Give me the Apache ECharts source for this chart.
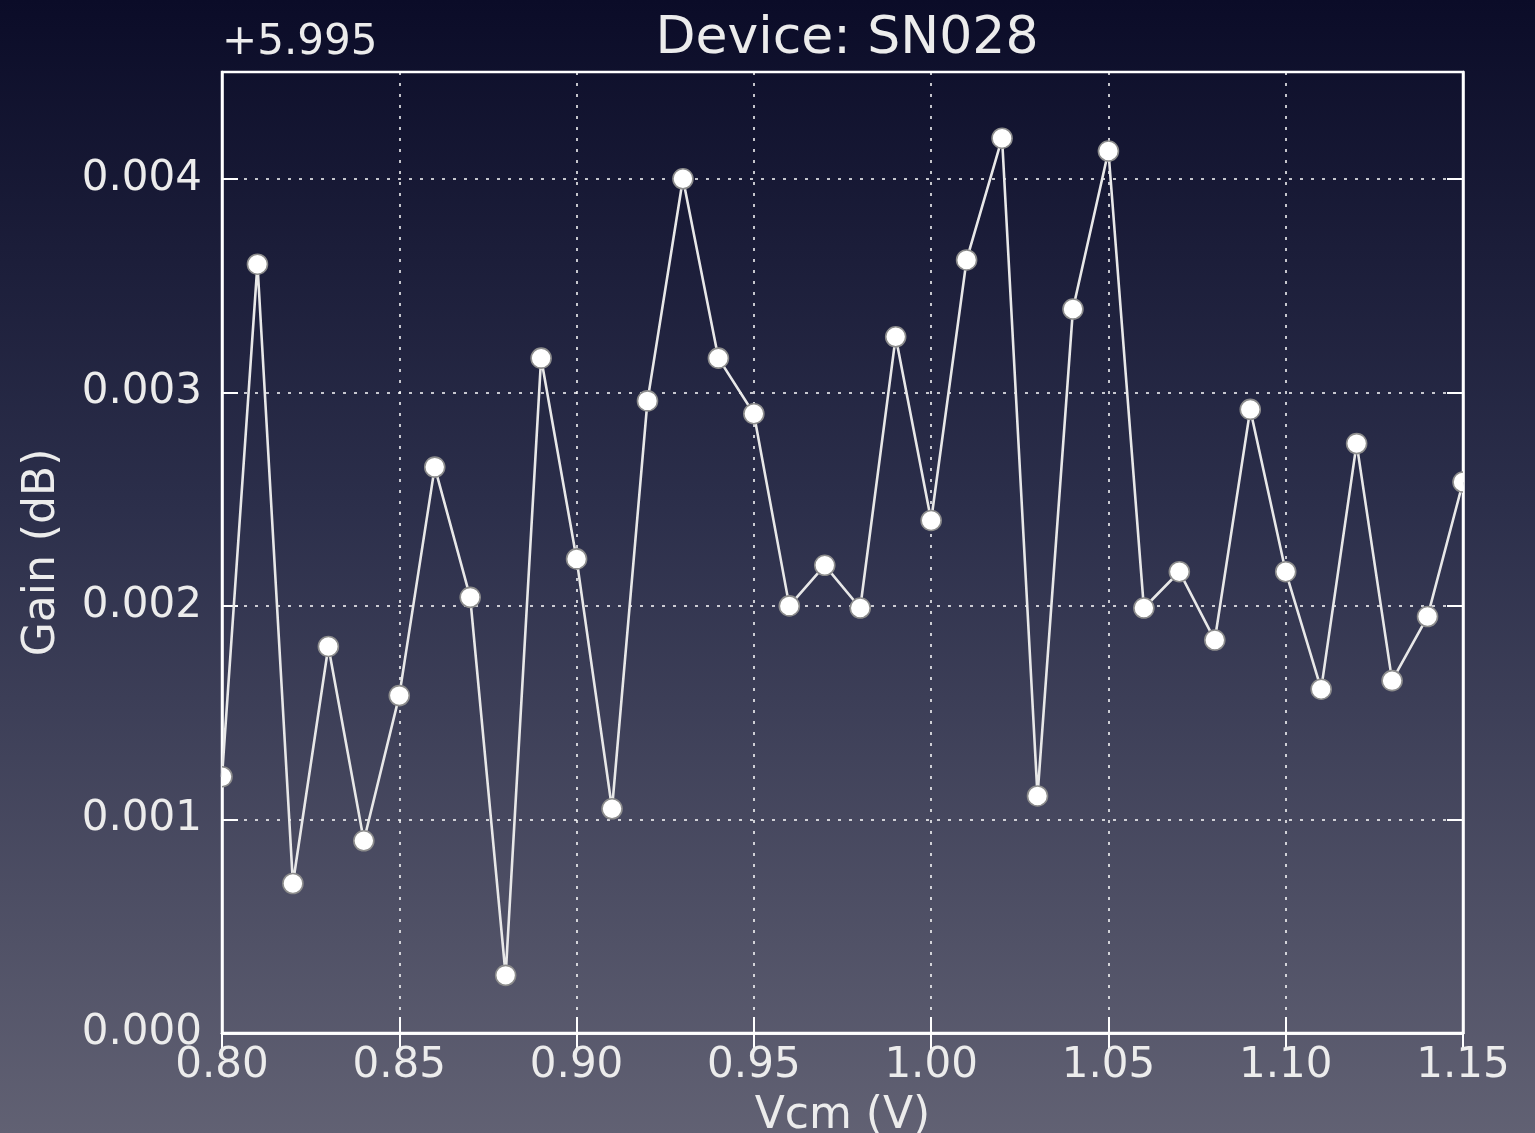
<!DOCTYPE html>
<html>
<head>
<meta charset="utf-8">
<title>Device: SN028</title>
<script src="https://cdn.jsdelivr.net/npm/echarts@6/dist/echarts.min.js"></script>
<style>
  html, body { margin: 0; padding: 0; width: 100%; height: 100%; overflow: hidden; }
  #chart { width: 1535px; height: 1133px; }
</style>
</head>
<body>
<div id="chart"></div>
<script>
// Common-mode voltage sweep (V)
const vcm = [0.80, 0.81, 0.82, 0.83, 0.84, 0.85, 0.86, 0.87, 0.88, 0.89,
             0.90, 0.91, 0.92, 0.93, 0.94, 0.95, 0.96, 0.97, 0.98, 0.99,
             1.00, 1.01, 1.02, 1.03, 1.04, 1.05, 1.06, 1.07, 1.08, 1.09,
             1.10, 1.11, 1.12, 1.13, 1.14, 1.15];
// Gain relative to the +5.995 dB offset
const gainOffset = [0.00120, 0.00360, 0.00070, 0.00181, 0.00090, 0.00158, 0.00265, 0.00204, 0.00027, 0.00316,
                    0.00222, 0.00105, 0.00296, 0.00400, 0.00316, 0.00290, 0.00200, 0.00219, 0.00199, 0.00326,
                    0.00240, 0.00362, 0.00419, 0.00111, 0.00339, 0.00413, 0.00199, 0.00216, 0.00184, 0.00292,
                    0.00216, 0.00161, 0.00276, 0.00165, 0.00195, 0.00258];
const offsetLabel = '+5.995';
const xTicks = { min: 0.80, max: 1.15, step: 0.05 };
const yTicks = { min: 0.000, max: 0.0045, step: 0.001 };

const points = vcm.map((v, i) => [v, gainOffset[i]]);

const FONT = 'DejaVu Sans';
const TXT = '#ececec';

const chart = echarts.init(document.getElementById('chart'), null, { renderer: 'canvas' });

const tickStyle = { show: true, inside: true, length: 16, lineStyle: { color: '#ffffff', width: 2 } };
const gridDots = { show: true, lineStyle: { color: 'rgba(255,255,255,0.75)', width: 2, type: [3, 8] } };

chart.setOption({
  backgroundColor: {
    type: 'linear', x: 0, y: 0, x2: 0, y2: 1,
    colorStops: [
      { offset: 0, color: '#0b0c28' },
      { offset: 0.45, color: '#2c2f4b' },
      { offset: 1, color: '#616173' }
    ]
  },
  animation: false,
  title: [
    {
      text: 'Device: SN028',
      left: 842, top: 8, textAlign: 'center',
      textStyle: { fontFamily: FONT, fontSize: 52, fontWeight: 'normal', color: TXT }
    },
    {
      text: offsetLabel,
      left: 217, top: 17,
      textStyle: { fontFamily: FONT, fontSize: 42, fontWeight: 'normal', color: TXT }
    }
  ],
  grid: {
    left: 222, right: 72, top: 72, bottom: 100,
    outerBoundsMode: 'none',
    show: true, borderColor: '#ffffff', borderWidth: 2.5, backgroundColor: 'transparent'
  },
  xAxis: [
    {
      type: 'value', min: xTicks.min, max: xTicks.max, interval: xTicks.step,
      name: 'Vcm (V)', nameLocation: 'middle', nameGap: 62,
      nameTextStyle: { fontFamily: FONT, fontSize: 44, color: TXT },
      axisLine: { show: true, lineStyle: { color: '#ffffff', width: 2.5 } },
      axisTick: tickStyle,
      axisLabel: {
        fontFamily: FONT, fontSize: 42, color: TXT, margin: 12,
        formatter: v => v.toFixed(2)
      },
      splitLine: gridDots
    },
    {
      type: 'value', position: 'top', min: xTicks.min, max: xTicks.max, interval: xTicks.step,
      axisLine: { show: true, lineStyle: { color: '#ffffff', width: 2.5 } },
      axisTick: tickStyle, axisLabel: { show: false }, splitLine: { show: false }
    }
  ],
  yAxis: [
    {
      type: 'value', min: yTicks.min, max: yTicks.max, interval: yTicks.step,
      name: 'Gain (dB)', nameLocation: 'middle', nameGap: 157, nameRotate: 90,
      nameTextStyle: { fontFamily: FONT, fontSize: 44, color: TXT },
      axisLine: { show: true, lineStyle: { color: '#ffffff', width: 2.5 } },
      axisTick: tickStyle,
      axisLabel: {
        fontFamily: FONT, fontSize: 42, color: TXT, margin: 20,
        formatter: v => {
          const k = v / yTicks.step;
          return Math.abs(k - Math.round(k)) < 1e-6 ? v.toFixed(3) : '';
        }
      },
      splitLine: gridDots
    },
    {
      type: 'value', position: 'right', min: yTicks.min, max: yTicks.max, interval: yTicks.step,
      axisLine: { show: true, lineStyle: { color: '#ffffff', width: 2.5 } },
      axisTick: tickStyle, axisLabel: { show: false }, splitLine: { show: false }
    }
  ],
  series: [
    {
      type: 'line',
      data: points,
      showSymbol: false,
      clip: true,
      lineStyle: { color: '#e8e8e8', width: 2.6 },
      z: 3
    },
    {
      // round markers, clipped to the plotting area
      type: 'custom',
      data: points,
      clip: true,
      z: 4,
      renderItem: (params, api) => {
        const p = api.coord([api.value(0), api.value(1)]);
        return {
          type: 'circle',
          shape: { cx: p[0], cy: p[1], r: 10 },
          style: { fill: '#ffffff', stroke: '#8c8c8c', lineWidth: 1.6 }
        };
      }
    }
  ]
});
</script>
</body>
</html>
